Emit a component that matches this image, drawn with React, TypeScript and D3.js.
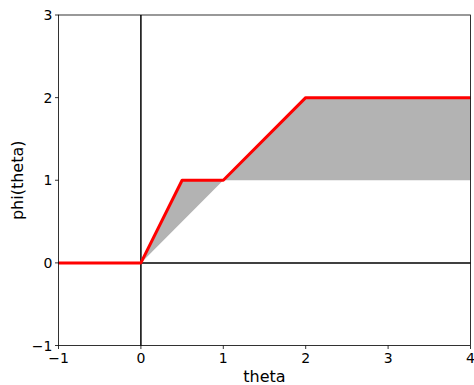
import React from "react";
import * as d3 from "d3";

const phiTheta = [-1, 0, 0.5, 1, 2, 4];
const phiValues = [0, 0, 1, 1, 2, 2];
const lowerTheta = [0, 1, 4];
const lowerValues = [0, 1, 1];
const xTicks = [-1, 0, 1, 2, 3, 4];
const yTicks = [-1, 0, 1, 2, 3];

const W = 474, H = 385;
const L = 58.5, R = 470.5, T = 15, B = 345.5;

export default function App() {
  const x = d3.scaleLinear().domain([-1, 4]).range([L, R]);
  const y = d3.scaleLinear().domain([-1, 3]).range([B, T]);
  const upper = phiTheta.map((t, i) => [t, phiValues[i]] as [number, number]);
  const lower = lowerTheta.map((t, i) => [t, lowerValues[i]] as [number, number]);
  // fill between upper (for theta>=0) and lower
  const upperPos = upper.filter(p => p[0] >= 0);
  const poly = [...upperPos, ...lower.slice().reverse()];
  const line = d3.line<[number, number]>().x(d => x(d[0])).y(d => y(d[1]));
  const fmt = (v: number) => (v < 0 ? "\u2212" + Math.abs(v) : String(v));
  const font = "DejaVu Sans, sans-serif";
  return (
    <svg width={W} height={H} style={{ position: "absolute", left: 0, top: 0 }} fontFamily={font}>
      <rect width={W} height={H} fill="white" />
      <path d={line(poly) + "Z"} fill="#b3b3b3" stroke="none" />
      <line x1={L} x2={R} y1={y(0)} y2={y(0)} stroke="black" strokeWidth={1.5} />
      <line x1={x(0)} x2={x(0)} y1={T} y2={B} stroke="black" strokeWidth={1.5} />
      <path d={line(upper)!} fill="none" stroke="red" strokeWidth={3} strokeLinejoin="round" />
      <rect x={L} y={T} width={R - L} height={B - T} fill="none" stroke="black" strokeWidth={0.8} />
      {xTicks.map(v => (
        <g key={"x" + v}>
          <line x1={x(v)} x2={x(v)} y1={B} y2={B + 3.5} stroke="black" strokeWidth={0.8} />
          <text x={x(v)} y={B + 17.5} fontSize={14} textAnchor="middle">{fmt(v)}</text>
        </g>
      ))}
      {yTicks.map(v => (
        <g key={"y" + v}>
          <line x1={L - 3.5} x2={L} y1={y(v)} y2={y(v)} stroke="black" strokeWidth={0.8} />
          <text x={L - 6} y={y(v) + 5} fontSize={14} textAnchor="end">{fmt(v)}</text>
        </g>
      ))}
      <text x={(L + R) / 2} y={382} fontSize={16} textAnchor="middle">theta</text>
      <text transform={`translate(23,${(T + B) / 2}) rotate(-90)`} fontSize={16} textAnchor="middle">phi(theta)</text>
    </svg>
  );
}
